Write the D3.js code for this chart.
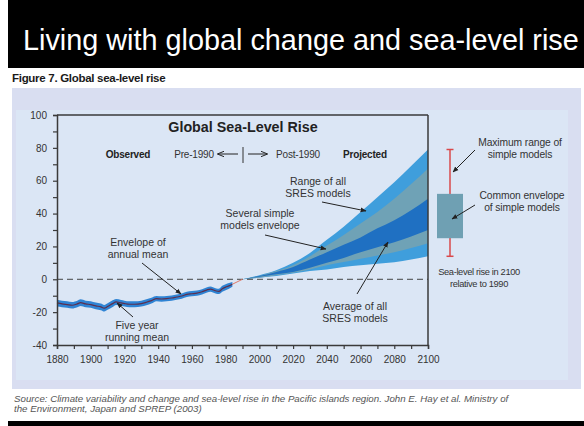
<!DOCTYPE html>
<html><head><meta charset="utf-8">
<script src="https://cdn.jsdelivr.net/npm/d3@7"></script>
<style>html,body{margin:0;padding:0;background:#fff;}svg{display:block;font-family:"Liberation Sans",Arial,sans-serif;}</style>
</head><body>
<svg id="c" width="584" height="426"></svg>
<script>
// ---- data ----
const obsYears = [1880,1883,1886,1889,1892,1894,1897,1900,1903,1906,1908,1910,1913,1915,1918,1920,1923,1926,1930,1933,1936,1939,1942,1945,1948,1951,1954,1957,1960,1963,1966,1969,1971,1974,1976,1978,1980,1982,1984];
const obsMean  = [-14.4,-15,-15.4,-15.8,-15,-14.2,-15,-15.4,-16.2,-16.8,-17.6,-16.6,-14.8,-13.8,-14.4,-14.8,-15.2,-15.2,-14.8,-14,-13,-11.8,-12,-11.8,-11.4,-10.8,-10.2,-9.2,-8.8,-8.4,-7.6,-6.4,-6,-7,-7.4,-5.8,-4.8,-4,-3];
const obsHigh  = [-12.4,-13,-13.4,-13.8,-13,-12.2,-13,-13.4,-14.2,-14.8,-15.6,-14.6,-12.8,-12,-12.6,-13,-13.4,-13.4,-13,-12.2,-11.2,-10.2,-10.4,-10.2,-9.8,-9.2,-8.6,-7.6,-7.2,-6.8,-6,-4.8,-4.4,-5.4,-5.8,-4,-3,-2.2,-1.6];
const obsLow   = [-16.6,-17,-17.4,-17.8,-17,-16.2,-17,-17.4,-18.2,-18.8,-19.6,-18.6,-16.8,-15.6,-16.2,-16.6,-17,-17,-16.6,-15.8,-14.8,-13.4,-13.6,-13.4,-13,-12.4,-11.8,-10.8,-10.4,-10,-9.2,-8,-7.6,-8.6,-9,-7.6,-6.6,-5.8,-4.6];
const linkYears = [1984, 1990];
const linkVals  = [-3, 0];

const projYears = [1990,2000,2010,2020,2030,2040,2050,2060,2070,2080,2090,2100];
const sresHigh  = [0,2.5,5.5,10,16,24,32,41,50,59,69,79];   // range of all SRES models (upper)
const simpleHigh= [0,2,5,8.5,14,20.5,27,34,41,49,58,67.5];  // several simple models envelope (upper)
const avgHigh   = [0,2,4.5,7.5,12,16.5,21,25.5,31,36,42,49]; // average of all SRES models (upper)
const avgLow    = [0,1.5,3,4.5,7,10,13,16.5,19.5,22.5,26,30];
const simpleLow = [0,1,2.5,4,6,8.5,10.5,12.5,14.5,16.5,19,22];
const sresLow   = [0,1,2,3.5,5,6,7.5,8.5,9.5,10.3,12,14];

const maxRangeLow = 14, maxRangeHigh = 79;
const commonLow = 25, commonHigh = 52;

const xTicks = [1880,1890,1900,1910,1920,1930,1940,1950,1960,1970,1980,1990,2000,2010,2020,2030,2040,2050,2060,2070,2080,2090,2100];
const yTicks = [-40,-30,-20,-10,0,10,20,30,40,50,60,70,80,90,100];

// ---- drawing ----
const svg = d3.select("#c");
const fit = (sel, size, w) => { const L = sel.node().getComputedTextLength(); const s = size*w/L; sel.style("font-size", s.toFixed(2)+"px"); return s; };

svg.append("rect").attr("x",8).attr("y",0).attr("width",576).attr("height",68).attr("fill","#000");
const ttl = svg.append("text").attr("x",23).attr("y",50).attr("fill","#fff")
  .style("font-size","24px").text("Living with global change and sea-level rise");
fit(ttl, 24, 556);
svg.append("rect").attr("x",8).attr("y",421).attr("width",576).attr("height",5).attr("fill","#000");

const fig = svg.append("text").attr("x",12).attr("y",82).attr("fill","#1a1a1a")
  .style("font-size","11px").style("font-weight","bold").style("letter-spacing","-0.3px").text("Figure 7. Global sea-level rise");
fit(fig, 11, 153);

// panels
svg.append("rect").attr("x",12).attr("y",88).attr("width",569).attr("height",301).attr("fill","#d9def1");
svg.append("rect").attr("x",16).attr("y",110).attr("width",552).attr("height",270).attr("fill","#dbe6f5");

const src = svg.append("g").attr("fill","#555").style("font-style","italic").style("font-family","'Liberation Sans',Arial,sans-serif");
const s1 = src.append("text").attr("x",14).attr("y",402).style("font-size","9px").text("Source: Climate variability and change and sea-level rise in the Pacific islands region. John E. Hay et al. Ministry of");
const fs = fit(s1, 9, 495);
src.append("text").attr("x",14).attr("y",412).style("font-size",fs.toFixed(2)+"px").text("the Environment, Japan and SPREP (2003)");

const x = d3.scaleLinear().domain([1880,2100]).range([57,428]);
const y = d3.scaleLinear().domain([-40,100]).range([345,115]);

const defs = svg.append("defs");
defs.append("marker").attr("id","ah").attr("viewBox","0 0 10 10").attr("refX",9).attr("refY",5)
  .attr("markerWidth",6).attr("markerHeight",6).attr("orient","auto")
  .append("path").attr("d","M0,1 L10,5 L0,9 z").attr("fill","#222");
defs.append("marker").attr("id","ah2").attr("viewBox","0 0 10 10").attr("refX",9).attr("refY",5)
  .attr("markerWidth",7).attr("markerHeight",7).attr("orient","auto")
  .append("path").attr("d","M0,1 L10,5 L0,9").attr("fill","none").attr("stroke","#222").attr("stroke-width",1.4);

// projections
const band = (hi, lo) => d3.area().x((d,i)=>x(projYears[i])).y0((d,i)=>y(lo[i])).y1((d,i)=>y(hi[i])).curve(d3.curveMonotoneX)(projYears);
svg.append("path").attr("d",band(sresHigh,sresLow)).attr("fill","#3f9edc");
svg.append("path").attr("d",band(simpleHigh,simpleLow)).attr("fill","#6fa2b6");
svg.append("path").attr("d",band(avgHigh,avgLow)).attr("fill","#1f70c2");

svg.append("line").attr("x1",x(1880)).attr("x2",x(2100)).attr("y1",y(0)).attr("y2",y(0))
  .attr("stroke","#444").attr("stroke-width",1).attr("stroke-dasharray","6,4");

// observed
const env = d3.area().x((d,i)=>x(obsYears[i])).y0((d,i)=>y(obsLow[i])).y1((d,i)=>y(obsHigh[i])).curve(d3.curveMonotoneX);
svg.append("path").attr("d",env(obsYears)).attr("fill","#2f84d4");
const ln = d3.line().x((d,i)=>x(obsYears[i])).y((d,i)=>y(obsMean[i])).curve(d3.curveMonotoneX);
svg.append("path").attr("d",ln(obsYears)).attr("fill","none").attr("stroke","#5c2f4f").attr("stroke-width",1.2);
svg.append("path").attr("d",d3.line().x((d,i)=>x(linkYears[i])).y((d,i)=>y(linkVals[i]))(linkYears))
  .attr("fill","none").attr("stroke","#e07a68").attr("stroke-width",1);

// frame
const fc = "#3a3a3a";
svg.append("line").attr("x1",x(1880)).attr("x2",x(2100)).attr("y1",y(100)).attr("y2",y(100)).attr("stroke",fc).attr("stroke-width",1.5);
svg.append("line").attr("x1",x(2100)).attr("x2",x(2100)).attr("y1",y(100)).attr("y2",y(-40)).attr("stroke",fc).attr("stroke-width",1.5);

const ya = svg.append("g").attr("transform",`translate(${x(1880)},0)`)
  .call(d3.axisLeft(y).tickValues(yTicks).tickSize(4).tickPadding(6).tickFormat(d=> d%20===0 ? d : ""));
const xa = svg.append("g").attr("transform",`translate(0,${y(-40)})`)
  .call(d3.axisBottom(x).tickValues(xTicks).tickSize(4).tickPadding(7).tickFormat(d=> d%20===0 ? d : ""));
[ya,xa].forEach(a=>{
  a.select(".domain").attr("stroke",fc).attr("stroke-width",1.5);
  a.selectAll(".tick line").attr("stroke",fc).attr("stroke-width",1.2);
  a.selectAll(".tick text").attr("fill","#333").style("font-size","10px").style("font-family","'Liberation Sans',Arial,sans-serif");
});

// box in right area
const bx = 450;
svg.append("line").attr("x1",bx).attr("x2",bx).attr("y1",y(maxRangeLow)).attr("y2",y(maxRangeHigh)).attr("stroke","#d9484a").attr("stroke-width",1.5);
[maxRangeLow,maxRangeHigh].forEach(v=>svg.append("line").attr("x1",bx-3.5).attr("x2",bx+3.5).attr("y1",y(v)).attr("y2",y(v)).attr("stroke","#d9484a").attr("stroke-width",1.5));
svg.append("rect").attr("x",bx-13).attr("width",26).attr("y",y(commonHigh)).attr("height",y(commonLow)-y(commonHigh)).attr("fill","#6fa0b3");

// texts
const T = (tx,ty,lines,opt={})=>{
  const t = svg.append("text").attr("x",tx).attr("y",ty).attr("text-anchor",opt.anchor||"middle")
    .attr("fill",opt.fill||"#333").style("font-size",(opt.size||10.5)+"px").style("font-weight",opt.bold?"bold":"normal");
  if(opt.ls) t.style("letter-spacing",opt.ls);
  lines.forEach((l,i)=>t.append("tspan").attr("x",tx).attr("dy",i?(opt.lh||12):0).text(l));
  return t;
};
T(243,132,["Global Sea-Level Rise"],{size:14.3,bold:true,fill:"#222"});
T(128,158,["Observed"],{size:10,bold:true,fill:"#222",ls:"-0.2px"});
T(194,158,["Pre-1990"],{size:10,ls:"-0.2px"});
T(298,158,["Post-1990"],{size:10,ls:"-0.2px"});
T(365,158,["Projected"],{size:10,bold:true,fill:"#222",ls:"-0.2px"});
svg.append("line").attr("x1",243).attr("x2",243).attr("y1",147).attr("y2",163).attr("stroke","#333").attr("stroke-width",1);
const arr = (x1,y1,x2,y2,m)=>svg.append("line").attr("x1",x1).attr("y1",y1).attr("x2",x2).attr("y2",y2)
  .attr("stroke","#222").attr("stroke-width",1).attr("marker-end",`url(#${m||"ah"})`);
arr(238,154,218,154,"ah2");
arr(248,154,267,154,"ah2");

T(138,246,["Envelope of","annual mean"]);
arr(142,263,181,294);
T(137,329,["Five year","running mean"]);
arr(133,317,117,303);
T(260,217,["Several simple","models envelope"]);
arr(265,235,326,249);
T(318,185,["Range of all","SRES models"]);
arr(322,202,366,211);
T(355,310,["Average of all","SRES models"]);
arr(357,294,388,242);
T(520,146,["Maximum range of","simple models"],{size:10.3,ls:"-0.1px"});
arr(475,150,453,172);
T(522,199,["Common envelope","of simple models"],{size:10.3,ls:"-0.1px"});
arr(475,205,452,219);
T(479,275,["Sea-level rise in 2100","relative to 1990"],{size:9.3,ls:"-0.35px",lh:11.5});
</script>
</body></html>
